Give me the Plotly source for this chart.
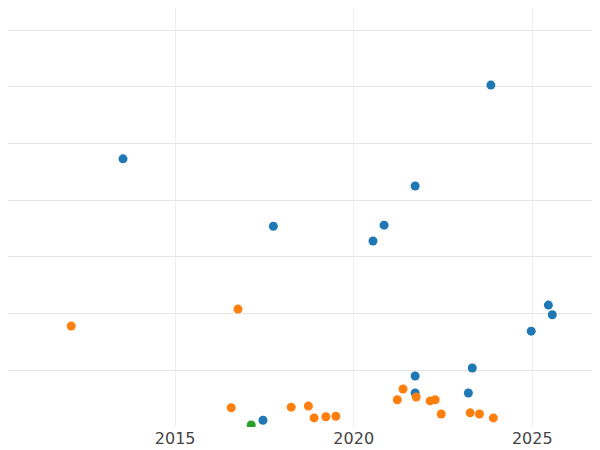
import plotly.graph_objects as go

blue_x = [2013.54, 2017.75, 2023.84, 2021.72, 2020.85, 2020.54, 2025.45, 2025.56, 2024.97, 2023.32, 2021.72, 2021.72, 2023.21, 2017.46]
blue_y = [47.3, 35.4, 60.3, 42.5, 35.6, 32.8, 21.5, 19.8, 16.9, 10.4, 9.0, 6.0, 6.0, 1.2]
orange_x = [2012.09, 2016.76, 2016.57, 2018.25, 2018.73, 2018.89, 2019.22, 2019.50, 2021.38, 2021.22, 2021.75, 2022.14, 2022.28, 2022.45, 2023.26, 2023.52, 2023.91]
orange_y = [17.8, 20.8, 3.4, 3.5, 3.7, 1.6, 1.8, 1.9, 6.7, 4.8, 5.3, 4.6, 4.8, 2.3, 2.5, 2.3, 1.6]
green_x = [2017.13]
green_y = [0.35]

fig = go.Figure()
for xs, ys, c in [(blue_x, blue_y, "#1f77b4"), (orange_x, orange_y, "#ff7f0e"), (green_x, green_y, "#2ca02c")]:
    fig.add_trace(go.Scatter(x=xs, y=ys, mode="markers", marker=dict(color=c, size=9), showlegend=False, cliponaxis=True))

fig.update_layout(
    width=600, height=450, margin=dict(l=0, r=0, t=0, b=31),
    plot_bgcolor="white", paper_bgcolor="white",
    font=dict(family="DejaVu Sans", size=16, color="#444"),
)
fig.update_xaxes(range=[2010.32, 2027.12], tickvals=[2015, 2020, 2025], showgrid=True, gridcolor="#eeeeee", zeroline=False)
fig.update_yaxes(range=[0, 73.9], dtick=10, showticklabels=False, showgrid=True, gridcolor="#e6e6e6", zeroline=False)
fig.write_html("out.html")
